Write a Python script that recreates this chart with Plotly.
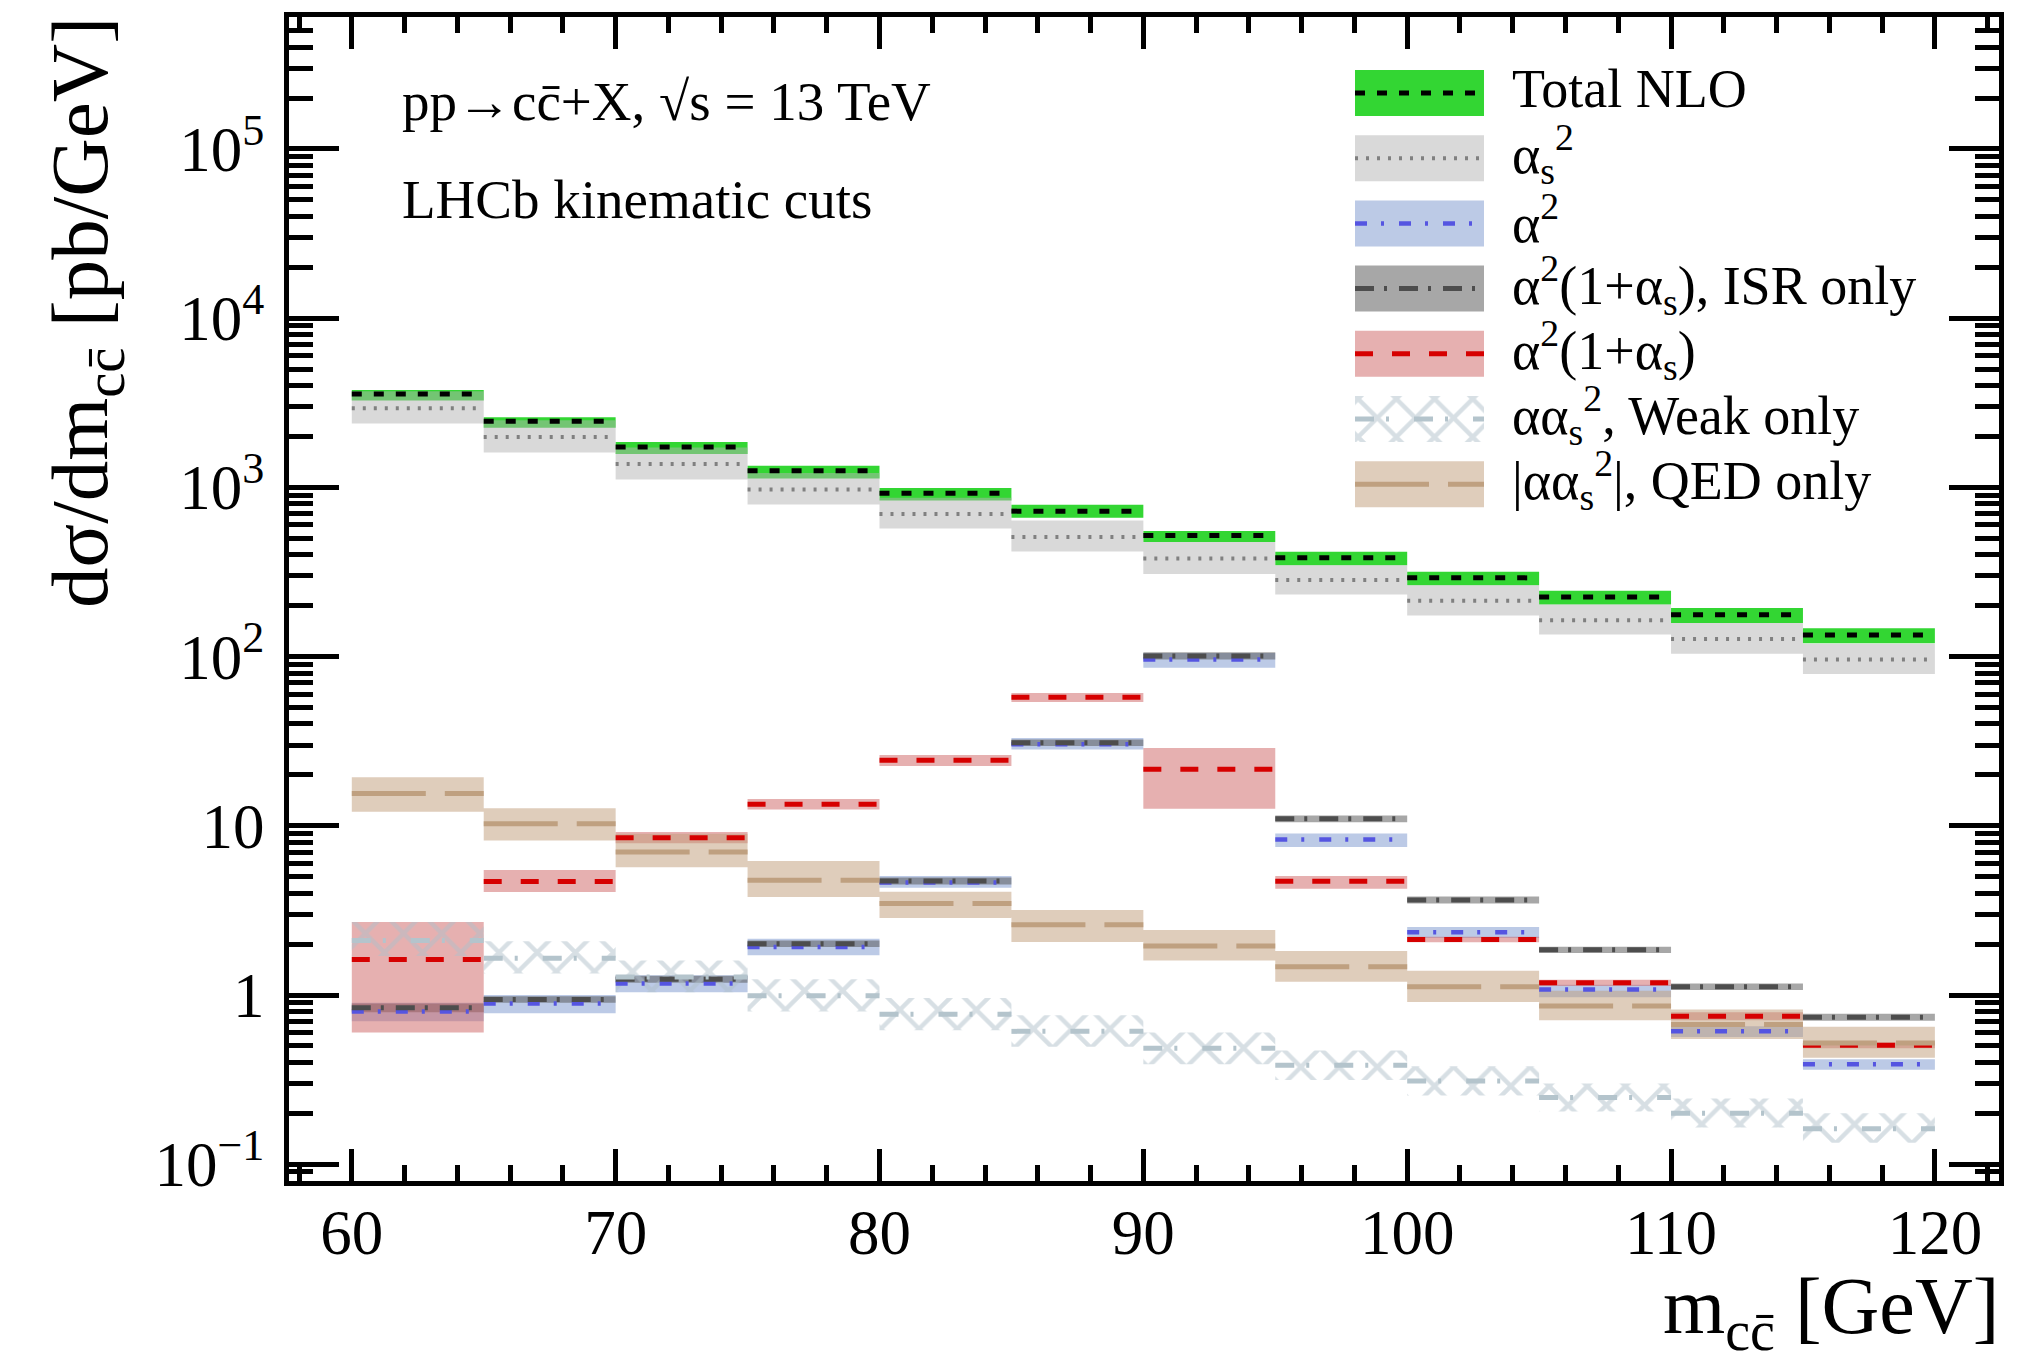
import plotly.graph_objects as go

# ---------------- data ----------------
edges = [60, 65, 70, 75, 80, 85, 90, 95, 100, 105, 110, 115, 120]

nlo = [3570, 2462, 1735, 1253, 925, 724, 519, 384, 292, 225, 177, 134]
nlo_lo = [3260, 2249, 1574, 1128, 836, 661, 476, 347, 264, 203, 158, 120]
nlo_hi = [3770, 2600, 1854, 1341, 993, 789, 553, 416, 317, 245, 194, 147]

as2 = [2940, 1988, 1377, 971, 697, 510, 380, 284, 214, 164, 127, 96]
as2_lo = [2383, 1607, 1112, 792, 571, 418, 308, 233, 175, 135, 104, 79]
as2_hi = [3700, 2490, 1720, 1215, 870, 637, 476, 347, 264, 203, 158, 119]

a2 = [0.80, 0.89, 1.17, 1.92, 4.62, 30.3, 96, 8.3, 2.35, 1.08, 0.61, 0.39]
a2_lo = [0.70, 0.78, 1.04, 1.72, 4.30, 28.3, 86, 7.5, 2.17, 0.97, 0.565, 0.362]
a2_hi = [0.90, 1.00, 1.31, 2.15, 5.05, 33.0, 105, 9.0, 2.52, 1.15, 0.655, 0.418]

isr = [0.84, 0.94, 1.24, 2.01, 4.72, 31.0, 101, 11.0, 3.65, 1.85, 1.12, 0.74]
isr_lo = [0.79, 0.90, 1.18, 1.92, 4.50, 29.6, 96, 10.5, 3.48, 1.77, 1.07, 0.705]
isr_hi = [0.89, 0.985, 1.30, 2.10, 4.95, 32.4, 106, 11.5, 3.82, 1.93, 1.17, 0.775]

mix = [1.62, 4.69, 8.51, 13.4, 24.4, 57.5, 21.6, 4.7, 2.13, 1.18, 0.75, 0.505]
mix_lo = [0.60, 4.07, 7.9, 12.5, 22.6, 54.0, 12.6, 4.25, 2.05, 1.13, 0.71, 0.485]
mix_hi = [2.70, 5.48, 9.2, 14.4, 26.2, 61.0, 28.8, 5.05, 2.21, 1.23, 0.79, 0.525]

weak = [2.10, 1.65, 1.28, 0.99, 0.77, 0.61, 0.485, 0.385, 0.31, 0.248, 0.20, 0.162]
weak_lo = [1.70, 1.34, 1.04, 0.80, 0.62, 0.495, 0.39, 0.315, 0.255, 0.205, 0.165, 0.134]
weak_hi = [2.70, 2.08, 1.60, 1.24, 0.96, 0.76, 0.60, 0.47, 0.38, 0.30, 0.245, 0.20]

qed = [15.5, 10.3, 7.0, 4.77, 3.48, 2.60, 1.95, 1.47, 1.12, 0.86, 0.67, 0.52]
qed_lo = [12.1, 8.2, 5.7, 3.8, 2.85, 2.06, 1.60, 1.20, 0.91, 0.71, 0.55, 0.426]
qed_hi = [19.4, 12.7, 8.97, 6.2, 4.08, 3.18, 2.42, 1.82, 1.39, 1.06, 0.82, 0.65]

labels = [
    "Total NLO",
    "α<sub>s</sub><sup>2</sup>",
    "α<sup>2</sup>",
    "α<sup>2</sup>(1+α<sub>s</sub>), ISR only",
    "α<sup>2</sup>(1+α<sub>s</sub>)",
    "αα<sub>s</sub><sup>2</sup>, Weak only",
    "|αα<sub>s</sub><sup>2</sup>|, QED only",
]

x_ticks = [60, 70, 80, 90, 100, 110, 120]
y_ticks = [0.1, 1, 10, 100, 1000, 10000, 100000]
y_ticktext = ["10<sup>−1</sup>", "1", "10", "10<sup>2</sup>", "10<sup>3</sup>",
              "10<sup>4</sup>", "10<sup>5</sup>"]

# ---------------- styling ----------------
FONT = "Liberation Serif"
W, H = 2023, 1362
L, R, T, B = 289, 1999, 17, 1181          # plot area in pixels
XR = [57.62, 122.43]
YR = [-1.099, 5.780]

series = [
    dict(c=nlo, lo=nlo_lo, hi=nlo_hi, fill="rgb(51,214,51)", line="black",
         dash="10px,12px", lw=5, hatch=False),
    dict(c=as2, lo=as2_lo, hi=as2_hi, fill="rgba(179,179,179,0.5)", line="rgb(128,128,128)",
         dash="3px,8px", lw=4, hatch=False),
    dict(c=a2, lo=a2_lo, hi=a2_hi, fill="rgba(121,149,205,0.5)", line="rgb(85,85,225)",
         dash="12px,14px,3px,15px", lw=4.5, hatch=False),
    dict(c=isr, lo=isr_lo, hi=isr_hi, fill="rgba(80,80,80,0.5)", line="rgb(77,77,77)",
         dash="19px,10px,3px,12px", lw=5, hatch=False),
    dict(c=mix, lo=mix_lo, hi=mix_hi, fill="rgba(205,97,97,0.5)", line="rgb(214,0,0)",
         dash="18px,19px", lw=5, hatch=False),
    dict(c=weak, lo=weak_lo, hi=weak_hi, fill="rgba(0,0,0,0)", line="rgb(180,196,204)",
         dash="19px,12px,3px,25px", lw=5, hatch=True),
    dict(c=qed, lo=qed_lo, hi=qed_hi, fill="rgba(191,155,119,0.5)", line="rgb(191,160,128)",
         dash="74px,19px", lw=5, hatch=False),
]
HATCH = dict(shape="x", fgcolor="rgb(176,192,201)", bgcolor="rgba(0,0,0,0)",
             size=27, solidity=0.3)


def rects(lo, hi):
    xs, ys = [], []
    for i in range(len(lo)):
        x0, x1 = edges[i], edges[i + 1]
        xs += [x0, x1, x1, x0, x0, None]
        ys += [lo[i], lo[i], hi[i], hi[i], lo[i], None]
    return xs, ys


def segs(v):
    xs, ys = [], []
    for i in range(len(v)):
        xs += [edges[i], edges[i + 1], None]
        ys += [v[i], v[i], None]
    return xs, ys


fig = go.Figure()

# bands
for s in series:
    xs, ys = rects(s["lo"], s["hi"])
    kw = dict(fillpattern=HATCH) if s["hatch"] else {}
    fig.add_trace(go.Scatter(x=xs, y=ys, mode="lines", fill="toself",
                             fillcolor=s["fill"], line=dict(width=0),
                             hoverinfo="skip", showlegend=False, **kw))
# central lines
for s in series:
    xs, ys = segs(s["c"])
    fig.add_trace(go.Scatter(x=xs, y=ys, mode="lines",
                             line=dict(color=s["line"], width=s["lw"], dash=s["dash"]),
                             hoverinfo="skip", showlegend=False))

# ---------------- hand-drawn legend (pixel overlay axes) ----------------
SW_X0, SW_X1, SW_H = 1355, 1484, 46
ROW0, ROW_DY = 93, 65.2
TXT_X = 1510
for k, s in enumerate(series):
    yc = ROW0 + k * ROW_DY
    y0, y1 = yc - SW_H / 2, yc + SW_H / 2
    kw = dict(fillpattern=HATCH) if s["hatch"] else {}
    fig.add_trace(go.Scatter(x=[SW_X0, SW_X1, SW_X1, SW_X0, SW_X0],
                             y=[y0, y0, y1, y1, y0], xaxis="x2", yaxis="y2",
                             mode="lines", fill="toself", fillcolor=s["fill"],
                             line=dict(width=0), hoverinfo="skip", showlegend=False, **kw))
    fig.add_trace(go.Scatter(x=[SW_X0, SW_X1], y=[yc, yc], xaxis="x2", yaxis="y2",
                             mode="lines",
                             line=dict(color=s["line"], width=s["lw"], dash=s["dash"]),
                             hoverinfo="skip", showlegend=False))


def px(x):
    return (x - L) / (R - L)


def py(y):
    return (B - y) / (B - T)


ann = []
for k, lab in enumerate(labels):
    ann.append(dict(x=px(TXT_X), y=py(ROW0 + k * ROW_DY - 4), xref="paper", yref="paper",
                    text=lab, showarrow=False, xanchor="left", yanchor="middle",
                    font=dict(family=FONT, size=54, color="black")))

ann.append(dict(x=px(400), y=py(102), xref="paper", yref="paper",
                text="pp→cc̄+X, √s = 13 TeV", showarrow=False,
                xanchor="left", yanchor="middle", font=dict(family=FONT, size=55, color="black")))
ann.append(dict(x=px(400), y=py(199), xref="paper", yref="paper",
                text="LHCb kinematic cuts", showarrow=False,
                xanchor="left", yanchor="middle", font=dict(family=FONT, size=55, color="black")))
# axis titles
ann.append(dict(x=px(2001), y=py(1312), xref="paper", yref="paper",
                text="m<sub>cc̄</sub> [GeV]", showarrow=False,
                xanchor="right", yanchor="middle", font=dict(family=FONT, size=80, color="black")))
ann.append(dict(x=px(85), y=py(313), xref="paper", yref="paper",
                text="dσ/dm<sub>cc̄</sub> [pb/GeV]", showarrow=False, textangle=-90,
                xanchor="center", yanchor="middle", font=dict(family=FONT, size=81, color="black")))

y_minor = [m * 10.0 ** e for e in range(-2, 6) for m in range(2, 10)]

fig.update_layout(
    width=W, height=H,
    margin=dict(l=L, r=W - R, t=T, b=H - B, pad=0),
    paper_bgcolor="white", plot_bgcolor="white",
    showlegend=False,
    font=dict(family=FONT, color="black"),
    annotations=ann,
    xaxis=dict(range=XR, tickvals=x_ticks, ticks="inside", ticklen=32, tickwidth=5,
               tickcolor="black", showline=True, linewidth=5, linecolor="black",
               mirror="allticks", showgrid=False, zeroline=False,
               tickfont=dict(family=FONT, size=63, color="black"), ticklabelstandoff=-8,
               minor=dict(dtick=2, ticks="inside", ticklen=16, tickwidth=5,
                          tickcolor="black", showgrid=False)),
    yaxis=dict(type="log", range=YR, tickvals=y_ticks, ticktext=y_ticktext,
               ticks="inside", ticklen=50, tickwidth=4.5, tickcolor="black",
               showline=True, linewidth=5, linecolor="black", mirror="allticks",
               showgrid=False, zeroline=False,
               tickfont=dict(family=FONT, size=63, color="black"), ticklabelstandoff=7,
               minor=dict(tickvals=y_minor, ticks="inside", ticklen=24, tickwidth=4.5,
                          tickcolor="black", showgrid=False)),
    xaxis2=dict(overlaying="x", anchor="y2", range=[L, R], visible=False, fixedrange=True),
    yaxis2=dict(overlaying="y", anchor="x2", range=[B, T], visible=False, fixedrange=True),
)

fig.write_html("out.html", config={"displayModeBar": False},
               post_script="document.body.style.margin='0';")
